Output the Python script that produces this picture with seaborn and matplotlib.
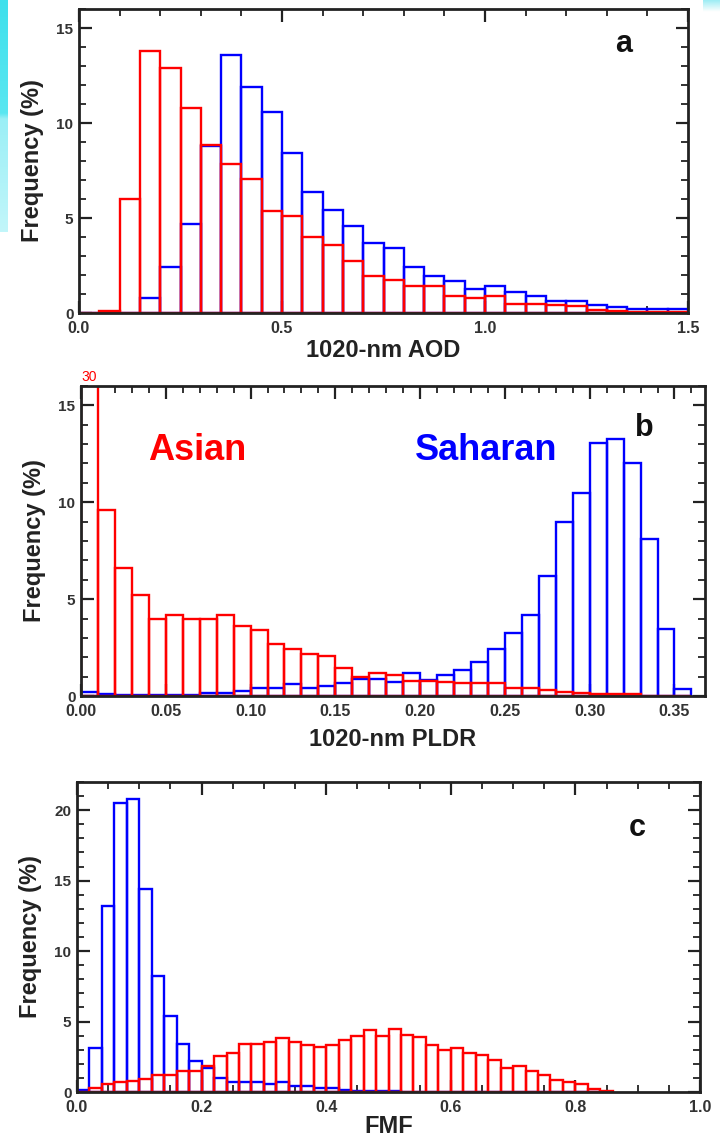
import numpy as np
import pandas as pd
import seaborn as sns
import matplotlib.pyplot as plt
from matplotlib.ticker import MultipleLocator, FormatStrFormatter
from matplotlib.transforms import blended_transform_factory
from matplotlib.colors import LinearSegmentedColormap

# ---------------- data: frequency (%) per bin ----------------
aod_edges = np.round(np.arange(0.0, 1.5001, 0.05), 3)
pldr_edges = np.round(np.arange(0.0, 0.3601, 0.01), 3)
fmf_edges = np.round(np.arange(0.0, 0.8601, 0.02), 3)

saharan_aod = [0, 0, 0, 0.8, 2.43, 4.7, 8.8, 13.6, 11.87, 10.6,
               8.4, 6.37, 5.4, 4.6, 3.66, 3.43, 2.41, 1.93, 1.67, 1.27,
               1.41, 1.13, 0.91, 0.65, 0.62, 0.44, 0.32, 0.21, 0.21, 0.21]
asian_aod = [0, 0.08, 6.0, 13.8, 12.9, 10.8, 8.85, 7.86, 7.03, 5.35,
             5.1, 4.0, 3.57, 2.76, 1.97, 1.76, 1.41, 1.41, 0.91, 0.79,
             0.91, 0.49, 0.49, 0.44, 0.35, 0.14, 0.1, 0.05, 0.05, 0.05]

saharan_pldr = [0.19, 0.1, 0.05, 0.05, 0.05, 0.05, 0.05, 0.17, 0.17, 0.27,
                0.4, 0.4, 0.6, 0.42, 0.5, 0.65, 0.88, 0.86, 0.74, 1.2,
                0.82, 1.1, 1.32, 1.77, 2.45, 3.26, 4.2, 6.2, 9.0, 10.5,
                13.04, 13.26, 12.0, 8.08, 3.48, 0.36]
asian_pldr = [30, 9.6, 6.6, 5.2, 4.0, 4.2, 3.95, 3.95, 4.2, 3.6,
              3.4, 2.7, 2.45, 2.15, 2.05, 1.42, 1.0, 1.2, 1.1, 0.75,
              0.75, 0.7, 0.68, 0.68, 0.66, 0.42, 0.42, 0.3, 0.2, 0.15,
              0.1, 0.1, 0.1, 0, 0, 0]

saharan_fmf = [0.12, 3.14, 13.2, 20.5, 20.8, 14.4, 8.24, 5.4, 3.44, 2.2,
               1.73, 1.0, 0.71, 0.71, 0.71, 0.6, 0.71, 0.43, 0.43, 0.29,
               0.29, 0.12, 0.05, 0.05, 0.05, 0.1, 0.03, 0.03, 0.02, 0.02,
               0.02, 0.02, 0.02, 0.02, 0.02, 0, 0, 0, 0, 0, 0, 0, 0]
asian_fmf = [0.0, 0.29, 0.6, 0.71, 0.76, 0.95, 1.24, 1.24, 1.5, 1.5,
             1.83, 2.54, 2.8, 3.44, 3.44, 3.56, 3.8, 3.56, 3.33, 3.16,
             3.33, 3.68, 3.97, 4.4, 3.97, 4.5, 4.08, 3.92, 3.33, 2.97,
             3.09, 2.78, 2.61, 2.26, 1.71, 1.85, 1.5, 1.19, 0.88, 0.71,
             0.6, 0.24, 0.07]

BLUE = "#0000ff"
RED = "#ff0000"
INK = "#222222"

sns.set_style("ticks")
plt.rcParams["font.family"] = ["Liberation Sans", "DejaVu Sans"]
plt.rcParams["font.weight"] = "bold"
plt.rcParams["axes.labelweight"] = "bold"

fig = plt.figure(figsize=(7.2, 11.4), dpi=100)
W, H = 720.0, 1140.0


def add_axes_px(left, top, right, bottom):
    return fig.add_axes([left / W, 1 - bottom / H, (right - left) / W, (bottom - top) / H])


def draw_hist(ax, edges, freq, color):
    frame = pd.DataFrame({"center": (edges[:-1] + edges[1:]) / 2,
                          "freq": np.asarray(freq, dtype=float)})
    sns.histplot(data=frame, x="center", weights="freq", bins=list(edges),
                 stat="count", element="bars", fill=False, color=color,
                 linewidth=1.7, ax=ax)


def style_axes(ax, xlim, ylim, xmaj, xmin, ymaj, ymin, xfmt, xlabel, pad_label):
    ax.set_xlim(*xlim)
    ax.set_ylim(*ylim)
    ax.xaxis.set_major_locator(MultipleLocator(xmaj))
    ax.xaxis.set_minor_locator(MultipleLocator(xmin))
    ax.yaxis.set_major_locator(MultipleLocator(ymaj))
    ax.yaxis.set_minor_locator(MultipleLocator(ymin))
    ax.xaxis.set_major_formatter(FormatStrFormatter(xfmt))
    ax.yaxis.set_major_formatter(FormatStrFormatter("%d"))
    ax.tick_params(which="both", direction="in", top=True, right=True, color=INK)
    ax.tick_params(which="major", length=9, width=1.6)
    ax.tick_params(which="minor", length=5, width=1.3)
    ax.tick_params(axis="x", labelsize=11.5, pad=6, labelcolor="#333333")
    ax.tick_params(axis="y", labelsize=11, pad=4, labelcolor="#333333")
    for lab in ax.get_xticklabels() + ax.get_yticklabels():
        lab.set_fontweight("bold")
    for sp in ax.spines.values():
        sp.set_linewidth(2.0)
        sp.set_color(INK)
        sp.set_visible(True)
    ax.set_xlabel(xlabel, fontsize=17, fontweight="bold", color=INK, labelpad=pad_label)
    ax.set_ylabel("Frequency (%)", fontsize=17, fontweight="bold", color=INK, labelpad=9)


# ---------------- panel a: AOD ----------------
ax_a = add_axes_px(79, 9, 688, 313)
draw_hist(ax_a, aod_edges, saharan_aod, BLUE)
draw_hist(ax_a, aod_edges, asian_aod, RED)
style_axes(ax_a, (0, 1.5), (0, 16), 0.5, 0.1, 5, 1, "%.1f", "1020-nm AOD", 2)
ax_a.text(0.895, 0.885, "a", transform=ax_a.transAxes, fontsize=22,
          fontweight="bold", color="#111111", ha="center", va="center")

# ---------------- panel b: PLDR ----------------
ax_b = add_axes_px(81, 386, 705, 696)
draw_hist(ax_b, pldr_edges, saharan_pldr, BLUE)
draw_hist(ax_b, pldr_edges, asian_pldr, RED)
style_axes(ax_b, (0, 0.368), (0, 16), 0.05, 0.01, 5, 1, "%.2f", "1020-nm PLDR", 6)
ax_b.text(0.902, 0.865, "b", transform=ax_b.transAxes, fontsize=22,
          fontweight="bold", color="#111111", ha="center", va="center")
ax_b.text(0.186, 0.792, "Asian", transform=ax_b.transAxes, fontsize=26,
          fontweight="bold", color=RED, ha="center", va="center")
ax_b.text(0.649, 0.792, "Saharan", transform=ax_b.transAxes, fontsize=26,
          fontweight="bold", color=BLUE, ha="center", va="center")
# value of the off-scale first bin
trans_b = blended_transform_factory(ax_b.transData, ax_b.transAxes)
ax_b.text((pldr_edges[0] + pldr_edges[1]) / 2, 1.008, f"{asian_pldr[0]:.0f}",
          transform=trans_b, fontsize=10, fontweight="normal", color=RED,
          ha="center", va="bottom")

# ---------------- panel c: FMF ----------------
ax_c = add_axes_px(77, 782, 700, 1092)
draw_hist(ax_c, fmf_edges, saharan_fmf, BLUE)
draw_hist(ax_c, fmf_edges, asian_fmf, RED)
style_axes(ax_c, (0, 1.0), (0, 22), 0.2, 0.05, 5, 1, "%.1f", "FMF", 0)
ax_c.text(0.899, 0.85, "c", transform=ax_c.transAxes, fontsize=22,
          fontweight="bold", color="#111111", ha="center", va="center")

# ---------------- slide background accents ----------------
accent = LinearSegmentedColormap.from_list(
    "accent", [(0.0, "#3ee0ec"), (0.49, "#5ae7f1"),
               (0.51, "#9aeff6"), (1.0, "#c2f6fa")])
strip = fig.add_axes([0, 1 - 232 / H, 8 / W, 232 / H])
strip.imshow(np.linspace(0, 1, 200)[:, None], aspect="auto", cmap=accent)
strip.set_axis_off()
corner = fig.add_axes([703 / W, 1 - 12 / H, 17 / W, 12 / H])
corner.imshow(np.linspace(0, 1, 20)[:, None], aspect="auto",
              cmap=LinearSegmentedColormap.from_list("corner", ["#9eedf4", "#ffffff"]))
corner.set_axis_off()

fig.savefig("out.png", dpi=100, facecolor="white")
